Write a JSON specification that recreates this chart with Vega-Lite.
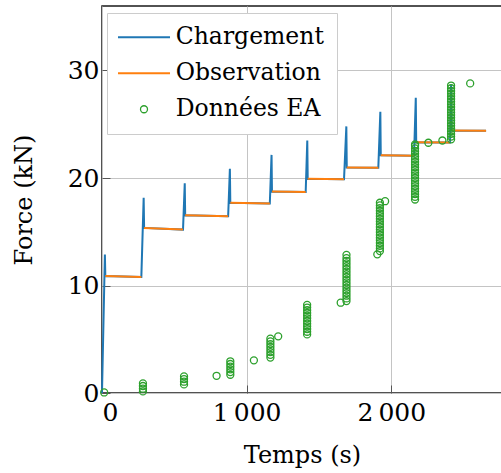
{
  "$schema": "https://vega.github.io/schema/vega-lite/v6.json",
  "width": 400,
  "height": 387,
  "autosize": {"type": "none"},
  "padding": {"left": 102, "top": 6, "right": 0, "bottom": 80},
  "background": "white",
  "data": {
    "values": [
      {"t": 0, "f": 0, "s": "Chargement", "g": 0},
      {"t": 20, "f": 12.88, "s": "Chargement", "g": 0},
      {"t": 23, "f": 10.88, "s": "Chargement", "g": 0},
      {"t": 272, "f": 10.8, "s": "Chargement", "g": 0},
      {"t": 288, "f": 18.16, "s": "Chargement", "g": 0},
      {"t": 291, "f": 15.36, "s": "Chargement", "g": 0},
      {"t": 560, "f": 15.2, "s": "Chargement", "g": 0},
      {"t": 572, "f": 19.5, "s": "Chargement", "g": 0},
      {"t": 575, "f": 16.54, "s": "Chargement", "g": 0},
      {"t": 872, "f": 16.45, "s": "Chargement", "g": 0},
      {"t": 884, "f": 20.86, "s": "Chargement", "g": 0},
      {"t": 887, "f": 17.69, "s": "Chargement", "g": 0},
      {"t": 1160, "f": 17.63, "s": "Chargement", "g": 0},
      {"t": 1172, "f": 22.15, "s": "Chargement", "g": 0},
      {"t": 1175, "f": 18.74, "s": "Chargement", "g": 0},
      {"t": 1408, "f": 18.7, "s": "Chargement", "g": 0},
      {"t": 1419, "f": 23.49, "s": "Chargement", "g": 0},
      {"t": 1422, "f": 19.92, "s": "Chargement", "g": 0},
      {"t": 1673, "f": 19.88, "s": "Chargement", "g": 0},
      {"t": 1689, "f": 24.8, "s": "Chargement", "g": 0},
      {"t": 1692, "f": 20.98, "s": "Chargement", "g": 0},
      {"t": 1910, "f": 20.95, "s": "Chargement", "g": 0},
      {"t": 1924, "f": 26.16, "s": "Chargement", "g": 0},
      {"t": 1927, "f": 22.12, "s": "Chargement", "g": 0},
      {"t": 2157, "f": 22.08, "s": "Chargement", "g": 0},
      {"t": 2169, "f": 27.47, "s": "Chargement", "g": 0},
      {"t": 2172, "f": 23.33, "s": "Chargement", "g": 0},
      {"t": 2406, "f": 23.3, "s": "Chargement", "g": 0},
      {"t": 2413, "f": 28.7, "s": "Chargement", "g": 0},
      {"t": 2416, "f": 24.42, "s": "Chargement", "g": 0},
      {"t": 2655, "f": 24.4, "s": "Chargement", "g": 0},

      {"t": 23, "f": 10.88, "s": "Observation", "g": 1},
      {"t": 272, "f": 10.8, "s": "Observation", "g": 1},
      {"t": 291, "f": 15.36, "s": "Observation", "g": 2},
      {"t": 560, "f": 15.2, "s": "Observation", "g": 2},
      {"t": 575, "f": 16.54, "s": "Observation", "g": 3},
      {"t": 872, "f": 16.45, "s": "Observation", "g": 3},
      {"t": 887, "f": 17.69, "s": "Observation", "g": 4},
      {"t": 1160, "f": 17.63, "s": "Observation", "g": 4},
      {"t": 1175, "f": 18.74, "s": "Observation", "g": 5},
      {"t": 1408, "f": 18.7, "s": "Observation", "g": 5},
      {"t": 1422, "f": 19.92, "s": "Observation", "g": 6},
      {"t": 1673, "f": 19.88, "s": "Observation", "g": 6},
      {"t": 1692, "f": 20.98, "s": "Observation", "g": 7},
      {"t": 1910, "f": 20.95, "s": "Observation", "g": 7},
      {"t": 1927, "f": 22.12, "s": "Observation", "g": 8},
      {"t": 2157, "f": 22.08, "s": "Observation", "g": 8},
      {"t": 2172, "f": 23.33, "s": "Observation", "g": 9},
      {"t": 2406, "f": 23.3, "s": "Observation", "g": 9},
      {"t": 2416, "f": 24.42, "s": "Observation", "g": 10},
      {"t": 2655, "f": 24.4, "s": "Observation", "g": 10},

      {"t": 15, "f": 0.05, "s": "Données EA", "g": 0},
      {"t": 283, "f": 0.15, "s": "Données EA", "g": 0},
      {"t": 283, "f": 0.4, "s": "Données EA", "g": 0},
      {"t": 283, "f": 0.65, "s": "Données EA", "g": 0},
      {"t": 283, "f": 0.9, "s": "Données EA", "g": 0},
      {"t": 567, "f": 0.8, "s": "Données EA", "g": 0},
      {"t": 567, "f": 1.05, "s": "Données EA", "g": 0},
      {"t": 567, "f": 1.3, "s": "Données EA", "g": 0},
      {"t": 567, "f": 1.55, "s": "Données EA", "g": 0},
      {"t": 792, "f": 1.6, "s": "Données EA", "g": 0},
      {"t": 887, "f": 1.7, "s": "Données EA", "g": 0},
      {"t": 887, "f": 1.95, "s": "Données EA", "g": 0},
      {"t": 887, "f": 2.2, "s": "Données EA", "g": 0},
      {"t": 887, "f": 2.45, "s": "Données EA", "g": 0},
      {"t": 887, "f": 2.7, "s": "Données EA", "g": 0},
      {"t": 887, "f": 2.95, "s": "Données EA", "g": 0},
      {"t": 1050, "f": 3.04, "s": "Données EA", "g": 0},
      {"t": 1164, "f": 3.3, "s": "Données EA", "g": 0},
      {"t": 1164, "f": 3.55, "s": "Données EA", "g": 0},
      {"t": 1164, "f": 3.8, "s": "Données EA", "g": 0},
      {"t": 1164, "f": 4.05, "s": "Données EA", "g": 0},
      {"t": 1164, "f": 4.3, "s": "Données EA", "g": 0},
      {"t": 1164, "f": 4.55, "s": "Données EA", "g": 0},
      {"t": 1164, "f": 4.8, "s": "Données EA", "g": 0},
      {"t": 1164, "f": 5.05, "s": "Données EA", "g": 0},
      {"t": 1218, "f": 5.27, "s": "Données EA", "g": 0},
      {"t": 1418, "f": 5.45, "s": "Données EA", "g": 0},
      {"t": 1418, "f": 5.7, "s": "Données EA", "g": 0},
      {"t": 1418, "f": 5.95, "s": "Données EA", "g": 0},
      {"t": 1418, "f": 6.2, "s": "Données EA", "g": 0},
      {"t": 1418, "f": 6.45, "s": "Données EA", "g": 0},
      {"t": 1418, "f": 6.7, "s": "Données EA", "g": 0},
      {"t": 1418, "f": 6.95, "s": "Données EA", "g": 0},
      {"t": 1418, "f": 7.2, "s": "Données EA", "g": 0},
      {"t": 1418, "f": 7.45, "s": "Données EA", "g": 0},
      {"t": 1418, "f": 7.7, "s": "Données EA", "g": 0},
      {"t": 1418, "f": 7.95, "s": "Données EA", "g": 0},
      {"t": 1418, "f": 8.2, "s": "Données EA", "g": 0},
      {"t": 1650, "f": 8.4, "s": "Données EA", "g": 0},
      {"t": 1690, "f": 8.55, "s": "Données EA", "g": 0},
      {"t": 1690, "f": 8.8, "s": "Données EA", "g": 0},
      {"t": 1690, "f": 9.05, "s": "Données EA", "g": 0},
      {"t": 1690, "f": 9.3, "s": "Données EA", "g": 0},
      {"t": 1690, "f": 9.55, "s": "Données EA", "g": 0},
      {"t": 1690, "f": 9.8, "s": "Données EA", "g": 0},
      {"t": 1690, "f": 10.05, "s": "Données EA", "g": 0},
      {"t": 1690, "f": 10.3, "s": "Données EA", "g": 0},
      {"t": 1690, "f": 10.55, "s": "Données EA", "g": 0},
      {"t": 1690, "f": 10.8, "s": "Données EA", "g": 0},
      {"t": 1690, "f": 11.05, "s": "Données EA", "g": 0},
      {"t": 1690, "f": 11.3, "s": "Données EA", "g": 0},
      {"t": 1690, "f": 11.55, "s": "Données EA", "g": 0},
      {"t": 1690, "f": 11.8, "s": "Données EA", "g": 0},
      {"t": 1690, "f": 12.05, "s": "Données EA", "g": 0},
      {"t": 1690, "f": 12.3, "s": "Données EA", "g": 0},
      {"t": 1690, "f": 12.55, "s": "Données EA", "g": 0},
      {"t": 1690, "f": 12.85, "s": "Données EA", "g": 0},
      {"t": 1903, "f": 12.9, "s": "Données EA", "g": 0},
      {"t": 1921, "f": 13.2, "s": "Données EA", "g": 0},
      {"t": 1921, "f": 13.45, "s": "Données EA", "g": 0},
      {"t": 1921, "f": 13.7, "s": "Données EA", "g": 0},
      {"t": 1921, "f": 13.95, "s": "Données EA", "g": 0},
      {"t": 1921, "f": 14.2, "s": "Données EA", "g": 0},
      {"t": 1921, "f": 14.45, "s": "Données EA", "g": 0},
      {"t": 1921, "f": 14.7, "s": "Données EA", "g": 0},
      {"t": 1921, "f": 14.95, "s": "Données EA", "g": 0},
      {"t": 1921, "f": 15.2, "s": "Données EA", "g": 0},
      {"t": 1921, "f": 15.45, "s": "Données EA", "g": 0},
      {"t": 1921, "f": 15.7, "s": "Données EA", "g": 0},
      {"t": 1921, "f": 15.95, "s": "Données EA", "g": 0},
      {"t": 1921, "f": 16.2, "s": "Données EA", "g": 0},
      {"t": 1921, "f": 16.45, "s": "Données EA", "g": 0},
      {"t": 1921, "f": 16.7, "s": "Données EA", "g": 0},
      {"t": 1921, "f": 16.95, "s": "Données EA", "g": 0},
      {"t": 1921, "f": 17.2, "s": "Données EA", "g": 0},
      {"t": 1921, "f": 17.45, "s": "Données EA", "g": 0},
      {"t": 1921, "f": 17.7, "s": "Données EA", "g": 0},
      {"t": 1957, "f": 17.84, "s": "Données EA", "g": 0},
      {"t": 2164, "f": 18.0, "s": "Données EA", "g": 0},
      {"t": 2164, "f": 18.25, "s": "Données EA", "g": 0},
      {"t": 2164, "f": 18.5, "s": "Données EA", "g": 0},
      {"t": 2164, "f": 18.75, "s": "Données EA", "g": 0},
      {"t": 2164, "f": 19.0, "s": "Données EA", "g": 0},
      {"t": 2164, "f": 19.25, "s": "Données EA", "g": 0},
      {"t": 2164, "f": 19.5, "s": "Données EA", "g": 0},
      {"t": 2164, "f": 19.75, "s": "Données EA", "g": 0},
      {"t": 2164, "f": 20.0, "s": "Données EA", "g": 0},
      {"t": 2164, "f": 20.25, "s": "Données EA", "g": 0},
      {"t": 2164, "f": 20.5, "s": "Données EA", "g": 0},
      {"t": 2164, "f": 20.75, "s": "Données EA", "g": 0},
      {"t": 2164, "f": 21.0, "s": "Données EA", "g": 0},
      {"t": 2164, "f": 21.25, "s": "Données EA", "g": 0},
      {"t": 2164, "f": 21.5, "s": "Données EA", "g": 0},
      {"t": 2164, "f": 21.75, "s": "Données EA", "g": 0},
      {"t": 2164, "f": 22.0, "s": "Données EA", "g": 0},
      {"t": 2164, "f": 22.25, "s": "Données EA", "g": 0},
      {"t": 2164, "f": 22.5, "s": "Données EA", "g": 0},
      {"t": 2164, "f": 22.75, "s": "Données EA", "g": 0},
      {"t": 2164, "f": 23.0, "s": "Données EA", "g": 0},
      {"t": 2164, "f": 23.12, "s": "Données EA", "g": 0},
      {"t": 2256, "f": 23.28, "s": "Données EA", "g": 0},
      {"t": 2353, "f": 23.49, "s": "Données EA", "g": 0},
      {"t": 2413, "f": 23.6, "s": "Données EA", "g": 0},
      {"t": 2413, "f": 23.85, "s": "Données EA", "g": 0},
      {"t": 2413, "f": 24.1, "s": "Données EA", "g": 0},
      {"t": 2413, "f": 24.35, "s": "Données EA", "g": 0},
      {"t": 2413, "f": 24.6, "s": "Données EA", "g": 0},
      {"t": 2413, "f": 24.85, "s": "Données EA", "g": 0},
      {"t": 2413, "f": 25.1, "s": "Données EA", "g": 0},
      {"t": 2413, "f": 25.35, "s": "Données EA", "g": 0},
      {"t": 2413, "f": 25.6, "s": "Données EA", "g": 0},
      {"t": 2413, "f": 25.85, "s": "Données EA", "g": 0},
      {"t": 2413, "f": 26.1, "s": "Données EA", "g": 0},
      {"t": 2413, "f": 26.35, "s": "Données EA", "g": 0},
      {"t": 2413, "f": 26.6, "s": "Données EA", "g": 0},
      {"t": 2413, "f": 26.85, "s": "Données EA", "g": 0},
      {"t": 2413, "f": 27.1, "s": "Données EA", "g": 0},
      {"t": 2413, "f": 27.35, "s": "Données EA", "g": 0},
      {"t": 2413, "f": 27.6, "s": "Données EA", "g": 0},
      {"t": 2413, "f": 27.85, "s": "Données EA", "g": 0},
      {"t": 2413, "f": 28.1, "s": "Données EA", "g": 0},
      {"t": 2413, "f": 28.35, "s": "Données EA", "g": 0},
      {"t": 2413, "f": 28.6, "s": "Données EA", "g": 0},
      {"t": 2545, "f": 28.8, "s": "Données EA", "g": 0}
    ]
  },
  "encoding": {
    "x": {
      "field": "t",
      "type": "quantitative",
      "scale": {"domain": [0, 2765], "nice": false, "zero": false},
      "axis": {
        "title": "Temps (s)",
        "values": [0, 1000, 2000],
        "format": ",d",
        "labelExpr": "replace(datum.label, ',', '\u2009')",
        "labelPadding": 15,
        "titlePadding": 18
      }
    },
    "y": {
      "field": "f",
      "type": "quantitative",
      "scale": {"domain": [0, 36], "nice": false},
      "axis": {
        "title": "Force (kN)",
        "values": [0, 10, 20, 30],
        "labelPadding": 11,
        "titlePadding": 31
      }
    },
    "color": {
      "field": "s",
      "type": "nominal",
      "scale": {
        "domain": ["Chargement", "Observation", "Données EA"],
        "range": ["#1f77b4", "#ff7f0e", "#2ca02c"]
      },
      "legend": {
        "title": null,
        "orient": "none",
        "legendX": 5,
        "legendY": 7,
        "padding": 12.5,
        "strokeColor": "#cccccc",
        "fillColor": "white",
        "symbolSize": 49,
        "symbolStrokeWidth": 2,
        "symbolOffset": 12.75,
        "labelOffset": 20,
        "labelFont": "DejaVu Serif",
        "labelFontSize": 23.5,
        "labelColor": "black",
        "labelLimit": 400,
        "rowPadding": 11,
        "encode": {
          "symbols": {
            "update": {
              "shape": {"signal": "datum.value === 'Données EA' ? 'circle' : 'M-7.43,0H7.43'"},
              "fill": {"value": "transparent"},
              "stroke": {"scale": "color", "field": "value"},
              "strokeWidth": {"signal": "datum.value === 'Données EA' ? 1.3 : 2"},
              "opacity": {"value": 1}
            }
          }
        }
      }
    }
  },
  "layer": [
    {
      "transform": [{"filter": "datum.s === 'Chargement'"}],
      "mark": {"type": "line", "strokeWidth": 2},
      "encoding": {}
    },
    {
      "transform": [{"filter": "datum.s === 'Observation'"}],
      "mark": {"type": "line", "strokeWidth": 2},
      "encoding": {"detail": {"field": "g", "type": "nominal"}}
    },
    {
      "transform": [{"filter": "datum.s === 'Données EA'"}],
      "mark": {"type": "point", "filled": false, "size": 49, "strokeWidth": 1.3, "opacity": 1},
      "encoding": {}
    }
  ],
  "config": {
    "view": {"stroke": "#1a1a1a", "strokeWidth": 1.5},
    "axis": {
      "labelFont": "DejaVu Serif",
      "titleFont": "DejaVu Serif",
      "labelFontSize": 25,
      "titleFontSize": 24,
      "titleFontWeight": "normal",
      "labelColor": "black",
      "titleColor": "black",
      "domain": false,
      "gridColor": "#c4c4c4",
      "gridWidth": 1,
      "gridOpacity": 1,
      "tickColor": "#555555",
      "tickSize": -8,
      "tickWidth": 1
    }
  }
}
